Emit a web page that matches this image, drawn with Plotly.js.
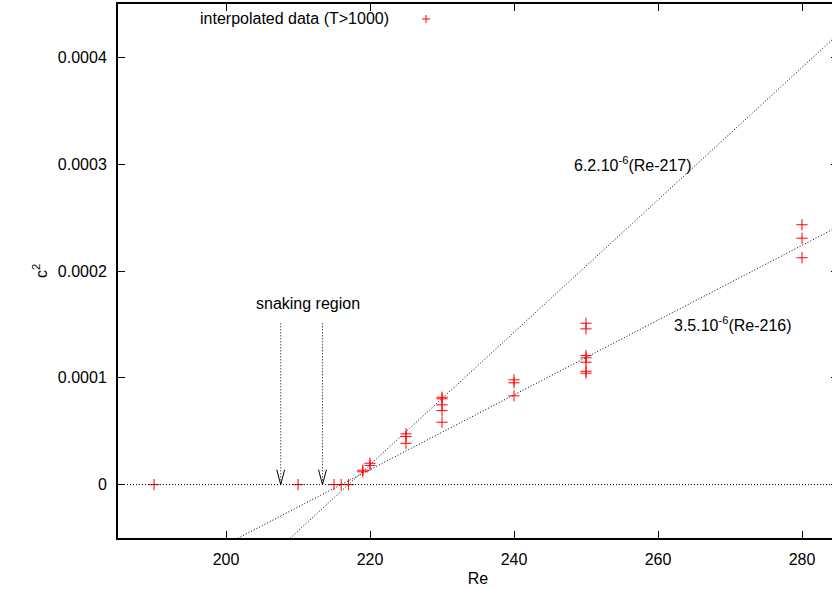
<!DOCTYPE html>
<html>
<head>
<meta charset="utf-8">
<script src="https://cdn.plot.ly/plotly-3.0.1.min.js"></script>
<style>html,body{margin:0;padding:0;overflow:hidden;background:#fff;}</style>
</head>
<body>
<div id="chart"></div>
<script>
// Data
const reValues = [190, 210, 215, 216, 217, 219, 219, 220, 220,
  225, 225, 225, 230, 230, 230, 230, 230, 240, 240, 240,
  250, 250, 250, 250, 250, 250, 250, 280, 280, 280];
const c2Values = [0, 0, 0, 0, 0, 0.000012, 0.0000135, 0.000018, 0.00002,
  0.0000475, 0.000045, 0.0000387, 0.0000818, 0.0000803, 0.0000747, 0.0000693, 0.0000584,
  0.0000981, 0.0000953, 0.0000831,
  0.0001511, 0.0001458, 0.0001208, 0.0001187, 0.0001146, 0.0001061, 0.0001043,
  0.0002433, 0.0002307, 0.0002124];
const seriesName = "interpolated data (T>1000)";

// Fit lines c2 = slope*(Re - onset)
const fitSlopes = [6.2e-6, 3.5e-6];
const fitOnsets = [217, 216];
const fitLabels = ["6.2.10<sup>-6</sup>(Re-217)", "3.5.10<sup>-6</sup>(Re-216)"];

// Snaking region arrows
const snakingRe = [207.6, 213.4];
const snakingTop = 0.000151;
const snakingLabel = "snaking region";

const xRange = [185, 285];
const yRange = [-0.00005, 0.00045];
const xTicks = [200, 220, 240, 260, 280];
const yTicks = [0, 0.0001, 0.0002, 0.0003, 0.0004];
const yTickText = ["0", "0.0001", "0.0002", "0.0003", "0.0004"];

const FONT = {family: "Liberation Sans, Arial, sans-serif", size: 16, color: "#000"};
const DOT = "1px,2px";

const traces = [];
fitSlopes.forEach((s, i) => {
  traces.push({
    x: xRange.slice(),
    y: xRange.map(x => s * (x - fitOnsets[i])),
    mode: "lines", type: "scatter", showlegend: false, hoverinfo: "skip",
    line: {color: "#000", width: 1, dash: DOT}
  });
});
traces.push({
  x: reValues, y: c2Values, name: seriesName, type: "scatter", mode: "markers",
  showlegend: false, cliponaxis: true,
  marker: {symbol: "cross-thin", size: 8, line: {color: "#ff0000", width: 1}, color: "#ff0000"}
});

const shapes = [
  {type: "line", xref: "paper", x0: 0, x1: 1, yref: "y", y0: 0, y1: 0,
   line: {color: "#000", width: 1, dash: DOT}}
];
snakingRe.forEach(x => {
  shapes.push({type: "line", xref: "x", yref: "y", x0: x, x1: x, y0: snakingTop, y1: 0,
    line: {color: "#000", width: 1, dash: DOT}});
  shapes.push({type: "path", xref: "x", yref: "y",
    path: `M${x - 0.55},${0.000014} L${x},0 L${x + 0.55},${0.000014}`,
    line: {color: "#000", width: 1}});
});
// key sample (red cross) in paper coords
const kx = (426 - 118) / 720, ky = (538 - 19) / 534;
const dx = 4 / 720, dy = 4 / 534;
shapes.push({type: "line", xref: "paper", yref: "paper", x0: kx - dx, x1: kx + dx, y0: ky, y1: ky, line: {color: "#ff0000", width: 1}});
shapes.push({type: "line", xref: "paper", yref: "paper", x0: kx, x1: kx, y0: ky - dy, y1: ky + dy, line: {color: "#ff0000", width: 1}});

const annotations = [
  {xref: "paper", yref: "paper", x: (391 - 118) / 720, y: ky, xanchor: "right", yanchor: "middle",
   text: seriesName, showarrow: false, font: FONT},
  {xref: "x", yref: "y", x: 265, y: 0.0003, xanchor: "right", yanchor: "middle",
   text: fitLabels[0], showarrow: false, font: FONT},
  {xref: "x", yref: "y", x: 262, y: 0.00015, xanchor: "left", yanchor: "middle",
   text: fitLabels[1], showarrow: false, font: FONT},
  {xref: "x", yref: "y", x: 211.4, y: 0.00017, xanchor: "center", yanchor: "middle",
   text: snakingLabel, showarrow: false, font: FONT},
  {xref: "paper", yref: "paper", x: -78 / 720, y: 0.5, xanchor: "center", yanchor: "middle",
   text: "c<sup>2</sup>", textangle: -90, showarrow: false, font: FONT}
];

const axisCommon = {
  showgrid: false, zeroline: false, showline: true, linecolor: "#000", linewidth: 2,
  mirror: "allticks", ticks: "inside", ticklen: 7, tickwidth: 1, tickcolor: "#000",
  tickfont: FONT
};

const layout = {
  width: 838, height: 589,
  margin: {l: 118, r: 0, t: 4, b: 51},
  paper_bgcolor: "#fff", plot_bgcolor: "#fff",
  font: FONT,
  showlegend: false,
  xaxis: Object.assign({}, axisCommon, {
    range: xRange, tickvals: xTicks, ticktext: xTicks.map(String),
    ticklabelstandoff: 6,
    title: {text: "Re", font: FONT, standoff: 6}
  }),
  yaxis: Object.assign({}, axisCommon, {
    range: yRange, tickvals: yTicks, ticktext: yTickText,
    ticklabelstandoff: 6
  }),
  shapes: shapes,
  annotations: annotations
};

Plotly.newPlot("chart", traces, layout, {displayModeBar: false, staticPlot: true});
</script>
</body>
</html>
